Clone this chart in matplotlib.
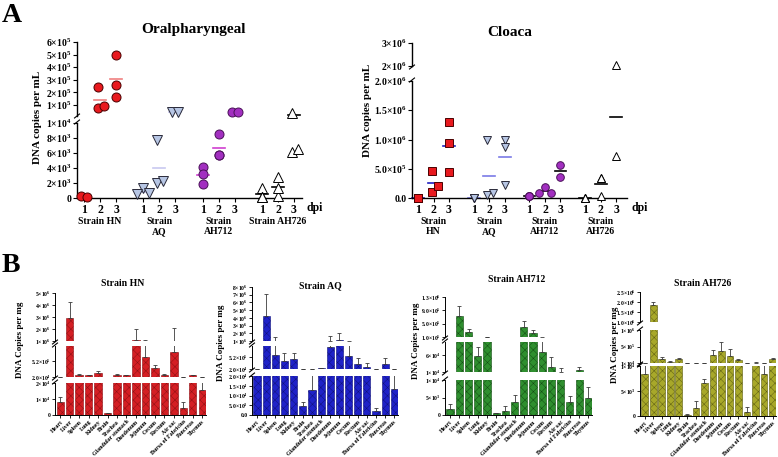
import numpy as np
import matplotlib.pyplot as plt
from matplotlib.lines import Line2D

plt.rcParams['font.family'] = ['Liberation Serif', 'DejaVu Serif']
plt.rcParams['font.weight'] = 'bold'
plt.rcParams['mathtext.fontset'] = 'custom'
plt.rcParams['mathtext.rm'] = 'Liberation Serif:bold'
plt.rcParams['mathtext.it'] = 'Liberation Serif:bold'
plt.rcParams['mathtext.bf'] = 'Liberation Serif:bold'
plt.rcParams['hatch.linewidth'] = 0.35
plt.rcParams['axes.linewidth'] = 1.0

# ---- panel A : viral load in swabs, one list per dpi (1, 2, 3)
strains = ['HN', 'AQ', 'AH712', 'AH726']
oral_hn = [[250, 200], [7.5e4, 9.5e4, 2.45e5], [1.65e5, 2.6e5, 5.0e5]]
oral_aq = [[1.3e3, 0.7e3, 0.6e3], [7.7e3, 2.0e3, 2.3e3], [4.4e4, 4.6e4]]
oral_ah712 = [[4.2e3, 1.9e3, 3.2e3], [8.5e3, 5.7e3, 5.7e3], [4.4e4, 4.6e4]]
oral_ah726 = [[1.3e3, 0.2e3, 0.2e3], [2.8e3, 0.3e3, 1.4e3], [6.2e3, 6.6e3, 4.0e4]]

cloaca_hn = [[0, 0, 0], [4.7e5, 1.1e5, 2.0e5], [1.3e6, 9.4e5, 4.4e5]]
cloaca_aq = [[0, 0, 0], [1.0e6, 5e4, 8e4], [1.0e6, 8.7e5, 2.3e5]]
cloaca_ah712 = [[3e4, 3e4, 3e4], [1.8e5, 8e4, 9e4], [5.6e5, 3.6e5]]
cloaca_ah726 = [[0, 0, 0], [3.4e5, 3.4e5, 4e4], [2.05e6, 7.2e5]]

# ---- panel B : tissue loads (mean, SD)
organs = ['Heart', 'Liver', 'Spleen', 'Lung', 'Kidney', 'Brain', 'Trachea',
          'Glandular stomach', 'Duodenum', 'Jejunum', 'Cecum', 'Rectum',
          'Air sac', 'Bursa of Fabricius', 'Pancreas', 'Thymus']
hn_mean = [8.1e3, 2.95e6, 8e4, 7.5e4, 1.6e5, 1.2e3, 8e4, 7.5e4, 1.05e6, 6.5e5,
           3.0e5, 7.5e4, 8.1e5, 4.4e3, 8e4, 1.55e4]
hn_sd = [3e3, 1.3e6, 2e4, 2e4, 6e4, 3e2, 4e4, 2e4, 9.5e5, 4e5,
         1e5, 2.5e4, 1.3e6, 3.6e3, 1.5e4, 5e3]
aq_mean = [2.3e4, 4.2e6, 6.1e5, 3.4e5, 4.3e5, 4.6e3, 1.3e4, 5e4, 9.7e5, 1.15e6,
           5.7e5, 2.5e5, 1.1e5, 2e3, 2.5e5, 1.35e4]
aq_sd = [2e3, 2.9e6, 9e5, 3.6e5, 2.7e5, 2.1e3, 9e3, 2e4, 6.3e5, 8.5e5,
         4.8e5, 2.3e5, 1.8e5, 1.5e3, 2.3e5, 8e3]
ah712_mean = [1.7e3, 7.2e5, 2.5e5, 5.7e4, 1.03e5, 5e2, 1.2e3, 3.7e3, 4.1e5, 2.2e5,
              7e4, 2.6e4, 1.1e4, 3.7e3, 1.6e4, 5e3]
ah712_sd = [1.4e3, 3e5, 1e5, 2.8e4, 7e3, 2e2, 1.4e3, 2.1e3, 1.8e5, 8e4,
            4.5e4, 2.8e4, 1.1e4, 1.7e3, 1e4, 3e3]
ah726_mean = [8.5e3, 1.85e6, 1.3e5, 5e4, 1.2e5, 3e2, 1.7e3, 6.7e3, 2.55e5, 3.8e5,
              2.3e5, 1e5, 8e2, 2.5e4, 8.5e3, 1.2e5]
ah726_sd = [2e3, 1.7e5, 6e4, 1e4, 4e4, 2e2, 1.3e3, 8e2, 1.45e5, 2.6e5,
            2e5, 3e4, 1.1e3, 1.5e4, 2e3, 5e4]

W, H = 778, 457
fig = plt.figure(figsize=(W / 100, H / 100), dpi=100)


def px_axes(x0, y0, x1, y1):
    return fig.add_axes([x0 / W, 1 - y1 / H, (x1 - x0) / W, (y1 - y0) / H])


def ftext(x, y, s, **kw):
    return fig.text(x / W, 1 - y / H, s, **kw)


def brk(x, y):
    fig.add_artist(Line2D([(x - 2.5) / W, (x + 2.5) / W],
                          [1 - (y + 2) / H, 1 - (y - 2) / H], color='black', lw=0.8))


def sci(v, dec=0):
    if v == 0:
        return '0' if dec == 0 else '0.' + '0' * dec
    e = int(np.floor(np.log10(v) + 1e-9))
    return f'{v / 10 ** e:.{dec}f}×10$^{{{e}}}$'


def seg_axes(x0, x1, y0, y1, ylim, ticks, dec, xlim, bottom, fs, tl=3):
    ax = px_axes(x0, y0, x1, y1)
    ax.set_xlim(xlim)
    ax.set_ylim(ylim)
    ax.patch.set_visible(False)
    ax.spines['top'].set_visible(False)
    ax.spines['right'].set_visible(False)
    if not bottom:
        ax.spines['bottom'].set_visible(False)
        ax.tick_params(axis='x', bottom=False, labelbottom=False)
    ax.set_yticks(ticks)
    ax.set_yticklabels([sci(t, dec) for t in ticks], fontsize=fs)
    ax.tick_params(axis='y', length=tl, width=0.8, pad=1)
    return ax


def pick(axes, v):
    for ax in axes:
        lo, hi = ax.get_ylim()
        if lo <= v <= hi:
            return ax
    return None


def dots(axes, xstart, data, style, mcolor, r=6.0):
    for d, vals in enumerate(data):
        xc = xstart + d
        placed = []
        where = []
        for v in vals:
            ax = pick(axes, v)
            xd, yd = ax.transData.transform((xc, v))
            upp = 1 / (ax.transData.transform((xc + 1, v))[0] - xd)
            dx = 0
            for cand in [0, r, -r, 2 * r, -2 * r]:
                if all(abs(yd - py) < 0.01 or (cand - pxx) ** 2 + (yd - py) ** 2 >= r * r
                       for pxx, py in placed):
                    dx = cand
                    break
            placed.append((dx, yd))
            where.append((ax, v, upp))
        shift = np.mean([p[0] for p in placed])
        for (ax, v, upp), (dx, _) in zip(where, placed):
            ax.plot(xc + (dx - shift) * upp, v, clip_on=False, zorder=3, **style)
        m = np.mean(vals)
        ax = pick(axes, m)
        if ax is not None:
            ax.plot([xc - 0.38, xc + 0.38], [m, m], color=mcolor, lw=1.2,
                    zorder=2, clip_on=False)


def dot_panel(x0, x1, segs, gstep, xlim, sets, styles, mcolors, two_line):
    axes = []
    for i, (y0, y1, lim, ticks, dec) in enumerate(segs):
        axes.append(seg_axes(x0, x1, y0, y1, lim, ticks, dec, xlim,
                             i == len(segs) - 1, 7))
    low = axes[-1]
    xs = [g * gstep + d for g in range(len(sets)) for d in range(3)]
    low.set_xticks(xs)
    low.set_xticklabels(['1', '2', '3'] * len(sets), fontsize=8.5)
    low.tick_params(axis='x', length=3, width=0.8, pad=1)
    for g, (data, st, mc) in enumerate(zip(sets, styles, mcolors)):
        dots(axes[::-1], g * gstep, data, st, mc)
        lbl = 'Strain\n' + strains[g] if two_line[g] else 'Strain ' + strains[g]
        low.annotate(lbl, xy=(g * gstep + 1, 0), xycoords=('data', 'axes fraction'),
                     xytext=(0, -14), textcoords='offset points', ha='center',
                     va='top', fontsize=7, linespacing=1.05)
    low.annotate('dpi', xy=(1, 0), xycoords='axes fraction', xytext=(3, -3),
                 textcoords='offset points', ha='left', va='top', fontsize=8.5)
    return axes


# ---- panel A
st_hn = dict(marker='o', ms=6.5, mfc='#e8191e', mec='#4a0000', mew=0.7, ls='none')
st_aq = dict(marker='v', ms=6.5, mfc='#b7c6e4', mec='#2a2a3a', mew=0.7, ls='none')
st_712 = dict(marker='o', ms=6.5, mfc='#a22fc0', mec='#4a1058', mew=0.7, ls='none')
st_726 = dict(marker='^', ms=6.5, mfc='white', mec='black', mew=0.7, ls='none')

dot_panel(77, 302,
          [(42, 115.7, (1.5e4, 6e5), [1e5, 2e5, 3e5, 4e5, 5e5, 6e5], 0),
           (123, 198, (0, 1e4), [0, 2e3, 4e3, 6e3, 8e3, 1e4], 0)],
          3.7, (-0.44, 13.6),
          [oral_hn, oral_aq, oral_ah712, oral_ah726],
          [st_hn, st_aq, st_712, st_726],
          ['#f08080', '#c8c8f0', '#d040d0', 'black'],
          [False, True, True, False])
brk(77, 116)
brk(77, 122)
ftext(193, 30, 'Oralpharyngeal', ha='center', va='center', fontsize=11)
ftext(38, 117, 'DNA copies per mL', ha='center', va='center', rotation=90, fontsize=8)

sq = dict(st_hn, marker='s', ms=5.5)
dot_panel(412, 627,
          [(43, 66, (2e6, 3e6), [2e6, 3e6], 0),
           (81, 198, (0, 2e6), [0, 5e5, 1e6, 1.5e6, 2e6], 1)],
          3.6, (-0.39, 13.5),
          [cloaca_hn, cloaca_aq, cloaca_ah712, cloaca_ah726],
          [sq, dict(st_aq, ms=5.5), dict(st_712, ms=5.5), dict(st_726, ms=5.5)],
          ['#2020c0', '#7a7ae6', 'black', 'black'],
          [True, True, True, True])
brk(412, 67)
brk(412, 80)
ftext(510, 33, 'Cloaca', ha='center', va='center', fontsize=11)
ftext(368, 110, 'DNA copies per mL', ha='center', va='center', rotation=90, fontsize=8)

# ---- panel B
bx = np.arange(len(organs))


def bar_panel(x0, x1, segs, means, sds, face, edge, title, tx, ty, lx, ly):
    n = len(means)
    for i, (y0, y1, lim, ticks, dec) in enumerate(segs):
        last = i == len(segs) - 1
        ax = seg_axes(x0, x1, y0, y1, lim, ticks, dec, (-0.55, 15.4), last, 4.1, tl=2)
        ax.bar(bx, means, width=0.78, color=face, edgecolor=edge, linewidth=0.4,
               hatch='xxxx')
        ax.errorbar(bx, means, yerr=[np.zeros(n), sds], fmt='none', ecolor='#3a3a3a',
                    elinewidth=0.6, capsize=1.5, capthick=0.6)
        ax.tick_params(axis='y', width=0.6)
        for s in ax.spines.values():
            s.set_linewidth(0.7)
        if last:
            ax.set_xticks(bx)
            ax.set_xticklabels(organs, rotation=45, ha='right', rotation_mode='anchor',
                               fontsize=4.3)
            ax.tick_params(axis='x', length=2, width=0.6, pad=1)
        if i > 0:
            brk(x0, y0 - 1)
        if i < len(segs) - 1:
            brk(x0, y1 + 1)
    ftext(tx, ty, title, ha='center', va='center', fontsize=7)
    ftext(lx, ly, 'DNA Copies per mg', ha='center', va='center', rotation=90, fontsize=6.5)


bar_panel(55, 206,
          [(293, 341, (1e6, 5e6), [1e6, 2e6, 3e6, 4e6, 5e6], 0),
           (346, 377, (2e4, 1e6), [2e4, 5.2e5], 1),
           (383, 415, (0, 2e4), [0, 1e4, 2e4], 0)],
          hn_mean, hn_sd, '#d41f24', '#8e1014', 'Strain HN', 123, 283, 20, 340)
bar_panel(252, 398,
          [(287, 341, (1e6, 8e6), [1e6, 2e6, 3e6, 4e6, 5e6, 6e6, 7e6, 8e6], 0),
           (346, 369, (2e4, 1e6), [2e4, 5.2e5], 1),
           (376, 415, (0, 2e4), [0, 5e3, 1e4, 1.5e4, 2e4], 1)],
          aq_mean, aq_sd, '#1f22c8', '#10127a', 'Strain AQ', 320, 286, 221, 343)
bar_panel(445, 592,
          [(297, 337, (1e5, 1.3e6), [1e5, 5e5, 9e5, 1.3e6], 1),
           (342, 372, (1e4, 1e5), [1e4, 6e4], 0),
           (380, 415, (0, 1e4), [0, 5e3, 1e4], 0)],
          ah712_mean, ah712_sd, '#2f8f2f', '#134d13', 'Strain AH712', 517, 280, 416, 341)
bar_panel(640, 776,
          [(292, 322, (1e6, 2.5e6), [1e6, 1.5e6, 2e6, 2.5e6], 1),
           (330, 363, (1e4, 1e6), [1e4, 5e5, 1e6], 0),
           (366, 416, (0, 1e4), [0, 5e3, 1e4], 0)],
          ah726_mean, ah726_sd, '#a8a82a', '#5e5e12', 'Strain AH726', 703, 283, 615, 345)

ftext(12, 15, 'A', ha='center', va='center', fontsize=20)
ftext(11, 266, 'B', ha='center', va='center', fontsize=20)

fig.savefig('out.png', dpi=100)
